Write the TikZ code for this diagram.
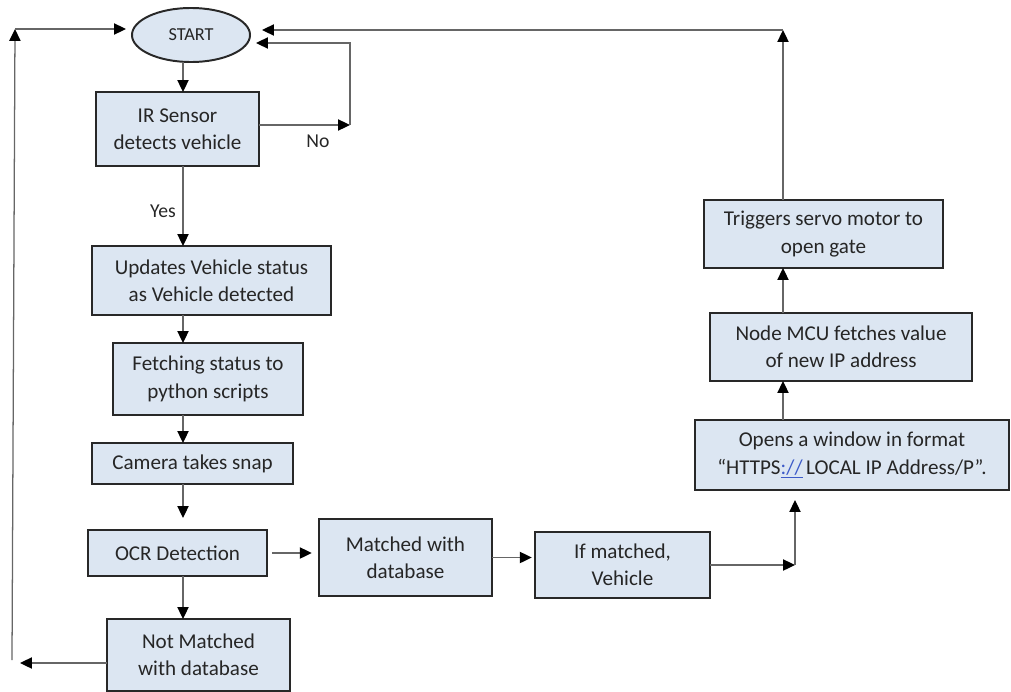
\documentclass[tikz,border=0pt]{standalone}
\usepackage{fontspec}
\setmainfont{Carlito}
\usetikzlibrary{arrows.meta,shapes.geometric}
\definecolor{boxfill}{RGB}{220,230,242}
\definecolor{boxline}{RGB}{40,40,40}
\definecolor{linkblue}{RGB}{60,90,200}
\begin{document}
\begin{tikzpicture}[x=0.025cm,y=-0.025cm]
\tikzset{
    box/.style={draw=boxline, line width=1.4pt, fill=boxfill, inner sep=0pt,
        outer sep=0pt, align=center, text=black!85, font=\fontsize{15}{19.5}\selectfont},
    startbox/.style={box, ellipse, font=\fontsize{13}{15}\selectfont},
    arr/.style={draw=black!60, line width=0.9pt,
        -{Triangle[length=8.5pt,width=8pt,color=black]}},
    lbl/.style={text=black!85, font=\fontsize{14}{17}\selectfont}}

\useasboundingbox (0,0) rectangle (1011,691);

% left column
\node[startbox, minimum width=2.95cm, minimum height=1.35cm] (start) at (191,35) {START};
\node[box, minimum width=4.075cm, minimum height=1.85cm] (ir) at (177.5,129) {IR Sensor\\detects vehicle};
\node[box, minimum width=5.975cm, minimum height=1.725cm] (upd) at (211.5,280.5) {Updates Vehicle status\\as Vehicle detected};
\node[box, minimum width=4.75cm, minimum height=1.8cm] (fetch) at (208,379) {Fetching status to\\python scripts};
\node[box, minimum width=5.025cm, minimum height=1.025cm] (cam) at (192.5,463.5) {Camera takes snap};
\node[box, minimum width=4.475cm, minimum height=1.15cm] (ocr) at (177.5,553) {OCR Detection};
\node[box, minimum width=4.575cm, minimum height=1.8cm] (notm) at (198.5,655) {Not Matched\\with database};

% bottom row
\node[box, minimum width=4.325cm, minimum height=1.925cm] (match) at (405.5,557.5) {Matched with\\database};
\node[box, minimum width=4.375cm, minimum height=1.65cm] (ifm) at (622.5,565) {If matched,\\Vehicle};

% right column
\node[box, minimum width=7.85cm, minimum height=1.75cm] (open) at (852,455) {Opens a window in format\\“HTTPS\textcolor{linkblue}{\underline{://}}\,LOCAL IP Address/P”.};
\node[box, minimum width=6.55cm, minimum height=1.7cm] (mcu) at (841,347) {Node MCU fetches value\\of new IP address};
\node[box, minimum width=5.975cm, minimum height=1.7cm] (trig) at (823.5,234) {Triggers servo motor to\\open gate};

\node[lbl] (yes) at (163,211) {Yes};
\node[lbl] (no) at (318,141) {No};

\coordinate (colx) at (183,0);
\coordinate (colr) at (783,0);
\coordinate (nor) at (350,125);
\coordinate (noup) at (350,43);
\coordinate (bend) at (795,565);
\coordinate (topr) at (783,30);
\coordinate (lbot) at (20,663);
\coordinate (lstart) at (12,660);
\coordinate (ltop) at (15,29);

\draw[arr] (start.south -| colx) -- (ir.north -| colx);
\draw[arr] (ir.south -| colx) -- (upd.north -| colx);
\draw[arr] (upd.south -| colx) -- (fetch.north -| colx);
\draw[arr] (fetch.south -| colx) -- (cam.north -| colx);
\draw[arr, shorten >=0.3cm] (cam.south -| colx) -- (ocr.north -| colx);
\draw[arr] (ocr.south -| colx) -- (notm.north -| colx);

\draw[arr] (ir.east |- nor) -- (nor);
\draw[arr, shorten >=0.15cm] (nor) -- (noup) -- (noup -| start.east);

\draw[arr, shorten <=0.12cm, shorten >=0.18cm] (ocr.east) -- (ocr.east -| match.west);
\draw[arr, shorten >=0.08cm] (match.east) -- (match.east -| ifm.west);
\draw[arr] (ifm.east) -- (bend);
\draw[arr, shorten >=0.25cm] (bend) -- (bend |- open.south);

\draw[arr] (open.north -| colr) -- (mcu.south -| colr);
\draw[arr] (mcu.north -| colr) -- (trig.south -| colr);
\draw[arr] (trig.north -| colr) -- (topr);
\draw[arr, shorten >=0.3cm] (topr) -- (topr -| start.east);

\draw[arr] (notm.west |- lbot) -- (lbot);
\draw[arr] (lstart) -- (ltop);
\draw[arr, shorten >=0.15cm] (ltop) -- (ltop -| start.west);
\end{tikzpicture}
\end{document}
